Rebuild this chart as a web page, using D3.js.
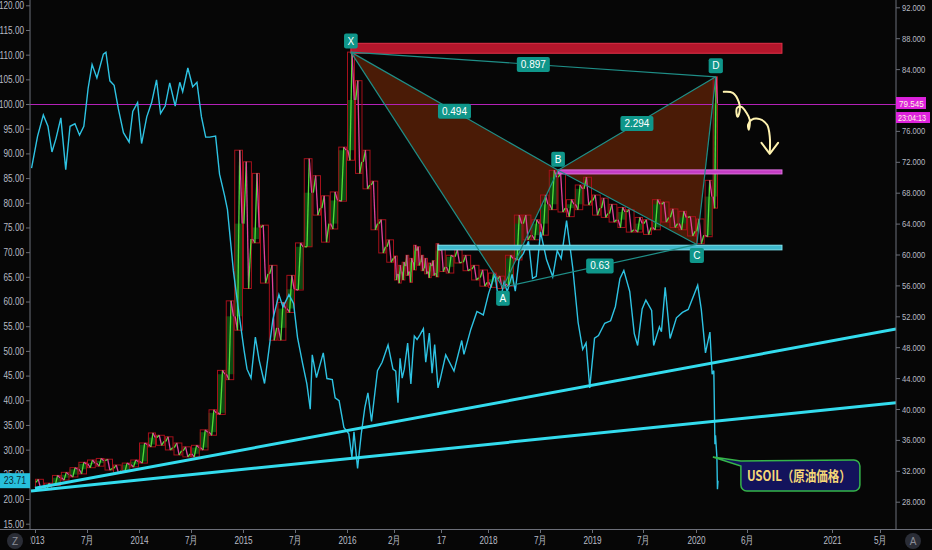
<!DOCTYPE html>
<html><head><meta charset="utf-8">
<script src="https://cdn.jsdelivr.net/npm/d3@7"></script>
<style>html,body{margin:0;padding:0;background:#060606;}svg{display:block}</style>
</head><body><svg id="c" width="932" height="550"></svg>
<script>
// ---------------- DATA ----------------
const xTickDates = ["2013-01-01","2013-07-01","2014-01-01","2014-07-01","2015-01-01","2015-07-01","2016-01-01","2016-07-01","2017-07-15","2018-01-01","2018-07-01","2019-01-01","2019-07-01","2020-01-01","2020-06-01","2021-01-01","2021-05-01"];
const xTickText  = ["2013","7月","2014","7月","2015","7月","2016","2月","17","2018","7月","2019","7月","2020","6月","2021","5月"];
const leftTicks  = d3.range(15, 121, 5);
const rightTicks = d3.range(28, 93, 4).filter(v => v !== 80);

const monthlyOHLC = [
["2013-01",30.5,30.9,29.7,29.9],["2013-02",29.9,30.4,29.55,30.2],["2013-03",30.2,31.4,30.1,31.1],["2013-04",31.1,31.8,30.8,31.5],
["2013-05",31.5,32.4,31.2,32.2],["2013-06",32.2,33.1,31.6,32.9],["2013-07",32.9,33.4,32.4,33.0],["2013-08",33.0,33.6,32.6,33.3],
["2013-09",33.3,33.5,32.1,32.3],["2013-10",32.3,32.75,31.7,32.0],["2013-11",32.0,33.0,31.9,32.8],["2013-12",32.8,33.4,32.5,33.2],
["2014-01",33.2,35.6,33.0,35.4],["2014-02",35.4,36.9,35.1,36.3],["2014-03",36.3,36.6,35.3,35.8],["2014-04",35.8,36.4,34.7,35.0],
["2014-05",35.0,35.6,34.05,34.6],["2014-06",34.6,35.1,33.8,34.2],["2014-07",34.2,35.3,33.8,35.0],["2014-08",35.0,37.3,34.7,37.0],
["2014-09",37.0,39.9,36.6,39.5],["2014-10",39.5,45.0,39.3,44.5],["2014-11",44.5,54.0,43.8,52.0],["2014-12",52.0,73.5,50.2,64.0],
["2015-01",64.0,72.0,55.6,62.0],["2015-02",62.0,70.5,61.5,63.5],["2015-03",63.5,63.8,56.3,57.5],["2015-04",57.5,58.6,48.9,50.5],
["2015-05",50.5,53.8,48.9,53.0],["2015-06",53.0,57.3,52.5,55.5],["2015-07",55.5,61.5,55.4,61.0],["2015-08",61.0,72.4,61.0,68.0],
["2015-09",68.0,70.2,65.1,66.0],["2015-10",66.0,67.6,61.6,64.0],["2015-11",64.0,68.1,63.3,67.0],["2015-12",67.0,73.9,66.9,73.5],
["2016-01",73.5,86.2,72.2,80.0],["2016-02",80.0,82.5,70.5,72.0],["2016-03",72.0,73.5,68.5,69.0],["2016-04",69.0,69.5,63.2,64.0],
["2016-05",64.0,64.5,60.2,61.0],["2016-06",61.0,61.9,59.0,59.5],["2016-07",59.5,59.8,56.7,57.5],["2016-08",57.5,58.6,56.3,57.8],
["2016-09",57.8,59.0,56.7,58.5],["2016-10",58.5,59.9,57.3,57.8],["2016-11",57.8,59.5,56.4,59.0],["2016-12",59.0,61.2,58.0,60.5],
["2017-01",60.5,61.0,58.6,59.0],["2017-02",59.0,59.9,57.9,58.2],["2017-03",58.2,59.5,57.5,57.8],["2017-04",57.8,58.9,57.0,58.5],
["2017-05",58.5,59.2,57.3,57.6],["2017-06",57.6,61.4,57.1,60.5],["2017-07",60.5,60.8,57.8,58.4],["2017-08",58.4,59.9,57.6,59.7],
["2017-09",59.7,60.6,58.9,59.0],["2017-10",59.0,59.9,57.9,58.1],["2017-11",58.1,58.6,56.7,57.0],["2017-12",57.0,58.0,55.9,56.4],
["2018-01",56.4,57.6,55.75,56.8],["2018-02",56.8,57.2,55.6,56.2],["2018-03",56.2,59.9,55.9,59.5],["2018-04",59.5,65.1,59.3,64.0],
["2018-05",64.0,65.1,61.9,62.5],["2018-06",62.5,64.5,61.9,64.0],["2018-07",64.0,67.7,62.5,66.5],["2018-08",66.5,70.9,65.8,70.0],
["2018-09",70.0,70.5,65.5,66.0],["2018-10",66.0,67.1,64.9,66.5],["2018-11",66.5,69.0,65.8,68.5],["2018-12",68.5,70.0,66.4,67.0],
["2019-01",67.0,67.7,65.1,66.0],["2019-02",66.0,67.3,64.8,65.3],["2019-03",65.3,66.5,64.2,64.5],["2019-04",64.5,66.1,63.5,65.5],
["2019-05",65.5,65.8,62.9,63.2],["2019-06",63.2,64.8,62.9,64.0],["2019-07",64.0,64.5,62.6,63.5],["2019-08",63.5,67.1,63.2,66.5],
["2019-09",66.5,66.8,64.2,64.8],["2019-10",64.8,65.9,63.5,64.0],["2019-11",64.0,65.6,63.2,64.8],["2019-12",64.8,64.9,62.4,63.0],
["2020-01",63.0,64.6,61.4,62.5],["2020-02",62.5,69.6,62.3,67.5],["2020-03",67.5,83.0,66.0,79.545]
];
const lastDate = "2020-03-20";

const usoil = [
["2012-12-20",87.0],["2013-01-10",93.5],["2013-01-30",97.8],["2013-02-15",95.5],["2013-03-01",90.3],["2013-03-15",93.0],
["2013-04-01",97.2],["2013-04-18",86.7],["2013-05-03",95.5],["2013-05-20",96.0],["2013-06-05",93.7],["2013-06-20",95.5],
["2013-07-05",103.2],["2013-07-19",108.0],["2013-08-05",105.3],["2013-08-28",110.1],["2013-09-06",110.5],["2013-09-20",104.7],
["2013-10-05",103.8],["2013-10-20",99.0],["2013-11-07",94.2],["2013-11-27",92.3],["2013-12-10",98.5],["2013-12-27",100.3],
["2014-01-10",92.0],["2014-01-28",97.4],["2014-02-14",100.3],["2014-03-03",104.9],["2014-03-17",98.1],["2014-04-02",99.6],
["2014-04-18",104.3],["2014-05-07",99.6],["2014-05-23",104.4],["2014-06-02",102.5],["2014-06-20",107.3],["2014-07-07",103.5],
["2014-07-22",104.4],["2014-08-07",97.4],["2014-08-22",93.3],["2014-09-05",93.3],["2014-09-26",93.5],["2014-10-10",85.8],
["2014-10-28",81.4],["2014-11-07",78.6],["2014-11-28",66.2],["2014-12-10",60.9],["2014-12-19",57.1],["2015-01-05",50.0],
["2015-01-15",46.3],["2015-01-29",44.5],["2015-02-13",52.8],["2015-02-26",48.2],["2015-03-17",43.4],["2015-04-01",50.1],
["2015-04-15",56.4],["2015-05-06",61.4],["2015-05-20",58.9],["2015-06-10",61.4],["2015-06-26",59.6],["2015-07-10",52.7],
["2015-07-28",47.4],["2015-08-12",43.3],["2015-08-24",38.2],["2015-08-31",49.2],["2015-09-15",44.6],["2015-10-09",49.6],
["2015-10-22",44.4],["2015-11-10",44.2],["2015-11-20",40.5],["2015-12-04",39.9],["2015-12-21",34.5],["2016-01-08",33.2],
["2016-01-20",28.5],["2016-01-28",33.6],["2016-02-11",26.2],["2016-02-25",33.1],["2016-03-10",38.5],["2016-03-22",41.5],
["2016-04-05",35.7],["2016-04-28",46.0],["2016-05-16",47.7],["2016-06-08",51.2],["2016-06-27",46.3],["2016-07-15",45.9],
["2016-08-02",39.5],["2016-08-19",48.5],["2016-09-05",44.5],["2016-09-22",46.3],["2016-10-19",51.6],["2016-11-14",43.3],
["2016-11-30",49.4],["2016-12-12",53.0],["2017-01-03",52.3],["2017-01-25",53.2],["2017-02-23",54.5],["2017-03-14",47.7],
["2017-04-12",53.6],["2017-05-04",45.5],["2017-05-25",51.3],["2017-06-21",42.5],["2017-07-10",44.4],["2017-08-01",49.2],
["2017-08-31",45.9],["2017-09-28",52.1],["2017-10-06",49.3],["2017-10-31",54.4],["2017-11-22",58.0],["2017-12-15",57.3],
["2018-01-03",61.6],["2018-01-25",65.6],["2018-02-09",59.2],["2018-02-26",63.9],["2018-03-09",62.0],["2018-03-26",65.5],
["2018-04-06",62.1],["2018-04-19",68.5],["2018-05-04",69.7],["2018-05-22",72.2],["2018-06-05",64.7],["2018-06-18",65.1],
["2018-07-03",74.1],["2018-07-24",68.5],["2018-08-15",65.0],["2018-08-31",70.3],["2018-09-14",68.7],["2018-10-03",76.4],
["2018-10-25",66.8],["2018-11-13",55.7],["2018-11-29",50.3],["2018-12-11",51.6],["2018-12-24",42.5],["2019-01-10",52.6],
["2019-01-24",53.1],["2019-02-15",55.6],["2019-03-08",56.1],["2019-03-25",59.0],["2019-04-10",64.6],["2019-04-24",66.3],
["2019-05-15",62.0],["2019-05-31",53.5],["2019-06-12",51.1],["2019-06-28",58.5],["2019-07-11",60.3],["2019-07-31",58.2],
["2019-08-07",51.1],["2019-08-27",54.9],["2019-09-03",53.9],["2019-09-16",62.9],["2019-10-03",52.5],["2019-10-25",56.7],
["2019-11-15",57.8],["2019-12-05",58.4],["2019-12-27",61.7],["2020-01-07",63.3],["2020-01-20",58.4],["2020-02-04",49.6],
["2020-02-20",53.8],["2020-02-28",45.3],["2020-03-05",46.0],["2020-03-09",31.1],["2020-03-11",32.9],["2020-03-16",28.5],
["2020-03-18",22.0],["2020-03-20",23.71]
];

const patternNames = ["X","A","B","C","D"];
const patternPts = [["2016-01-16",86.2],["2018-02-22",55.75],["2018-09-03",70.9],["2020-01-04",61.3],["2020-03-12",83.0]];
const ratioLinks = [["X","D","0.897"],["X","B","0.494"],["B","D","2.294"],["A","C","0.63"]];

const zones = [
  ["2016-01-16","2020-08-28",87.34,86.05,"red"],
  ["2018-09-03","2020-08-28",70.95,70.43,"magenta"],
  ["2017-06-21","2020-08-28",61.2,60.6,"cyan"]
];
const trendLines = [
  [["2013-01-01",29.73],["2021-06-10",50.36]],
  [["2012-12-18",29.38],["2021-06-10",40.81]]
];
const lastPrice = 79.545, lastPriceTime = "23:04:13";

// ---------------- SCALES ----------------
const parse = d3.timeParse("%Y-%m-%d");
const L = 30, R = 896, B = 529;
const xAnchors = xTickDates.slice(0, 14).concat(["2020-03-20"], xTickDates.slice(14));
const xAnchorPx = [35,87,139,191,243,295,347,394,441,488,540,592,643,696,718,747,832,880];
const x = d3.scaleTime().domain(xAnchors.map(parse)).range(xAnchorPx);
const yL = d3.scaleLinear().domain([15,120]).range([523.7,5.3]);
const yR = d3.scaleLinear().domain([28,92]).range([501.7,7.3]);

const svg = d3.select("#c");
svg.append("rect").attr("width",932).attr("height",550).attr("fill","#060606");
const defs = svg.append("defs");
defs.append("clipPath").attr("id","plot").append("rect").attr("x",L).attr("y",0).attr("width",R-L).attr("height",B);
defs.append("clipPath").attr("id","xlab").append("rect").attr("x",L+0.5).attr("y",B).attr("width",R-L-1).attr("height",550-B);
const plot = svg.append("g").attr("clip-path","url(#plot)");

const P = Object.fromEntries(patternNames.map((n,i)=>[n,[x(parse(patternPts[i][0])), yR(patternPts[i][1])]]));
const teal = "#1f8f88";

[["X","A","B"],["B","C","D"]].forEach(t=>{
  plot.append("path").attr("d","M"+t.map(n=>P[n].join(",")).join("L")+"Z")
    .attr("fill","#4a1b06").attr("stroke","none");
});

const pyCrisp = Math.round(yR(lastPrice)) + 0.5;
plot.append("line").attr("x1",L).attr("x2",R).attr("y1",pyCrisp).attr("y2",pyCrisp)
  .attr("stroke","#b321b8").attr("stroke-width",1);

const gC = plot.append("g");
monthlyOHLC.forEach((m,i)=>{
  const d0 = parse(m[0]+"-01");
  const d1 = i < monthlyOHLC.length-1 ? parse(monthlyOHLC[i+1][0]+"-01") : parse(lastDate);
  const x0 = x(d0), x1 = x(d1), w = x1-x0;
  const [o,h,l,c] = m.slice(1);
  if (c > o) gC.append("rect").attr("x",x0).attr("width",w).attr("y",yR(c)).attr("height",Math.max(1,yR(o)-yR(c))).attr("fill","#0b4a10");
  gC.append("rect").attr("x",x0+0.5).attr("width",Math.max(1,w-1)).attr("y",yR(h)).attr("height",yR(l)-yR(h))
    .attr("fill","none").attr("stroke","#a5101b").attr("stroke-width",1);
  const seq = c >= o ? [o,l,h,c] : [o,h,l,c];
  const fr = [0.1,0.37,0.63,0.9];
  for (let k=0;k<3;k++){
    gC.append("line").attr("x1",x0+fr[k]*w).attr("x2",x0+fr[k+1]*w)
      .attr("y1",yR(seq[k])).attr("y2",yR(seq[k+1]))
      .attr("stroke", seq[k+1] >= seq[k] ? "#55dd3a" : "#e2449c").attr("stroke-width",1.3);
  }
});

plot.append("path").datum(usoil)
  .attr("d", d3.line().x(d=>x(parse(d[0]))).y(d=>yL(d[1])))
  .attr("fill","none").attr("stroke","#2ec3e3").attr("stroke-width",1.4);

const zoneStyle = {red:["#b4162b","#e03048"], magenta:["#c43cc4","#e070e0"], cyan:["#3fb8cc","#7fe6f2"]};
zones.forEach(z=>{
  const [s,e,t,b,k] = z;
  plot.append("rect").attr("x",x(parse(s))).attr("width",x(parse(e))-x(parse(s)))
    .attr("y",yR(t)).attr("height",yR(b)-yR(t))
    .attr("fill",zoneStyle[k][0]).attr("stroke",zoneStyle[k][1]).attr("stroke-width",1);
});

trendLines.forEach(tl=>{
  plot.append("line").attr("x1",x(parse(tl[0][0]))).attr("y1",yR(tl[0][1]))
    .attr("x2",x(parse(tl[1][0]))).attr("y2",yR(tl[1][1]))
    .attr("stroke","#33dcee").attr("stroke-width",3);
});

[["X","A"],["A","B"],["B","C"],["C","D"],["X","B"],["B","D"],["X","D"],["A","C"]].forEach(e=>{
  plot.append("line").attr("x1",P[e[0]][0]).attr("y1",P[e[0]][1]).attr("x2",P[e[1]][0]).attr("y2",P[e[1]][1])
    .attr("stroke",teal).attr("stroke-width",1.2);
});

function tag(g, cx, cy, txt, padX){
  const t = g.append("text").attr("x",cx).attr("y",cy+3.6).attr("text-anchor","middle")
    .attr("font-family","Liberation Sans, Arial, sans-serif").attr("font-size",10).attr("fill","#ffffff").text(txt);
  const w = t.node().getComputedTextLength() + padX*2;
  g.insert("rect","text").attr("x",cx-w/2).attr("y",cy-7.5).attr("width",w).attr("height",15).attr("rx",2).attr("fill","#0f968a");
}
ratioLinks.forEach(r=>{
  tag(plot.append("g"),(P[r[0]][0]+P[r[1]][0])/2,(P[r[0]][1]+P[r[1]][1])/2,r[2],4);
});
const above = {X:true,A:false,B:true,C:false,D:true};
patternNames.forEach(n=>{
  tag(plot.append("g"),P[n][0], P[n][1] + (above[n] ? -11 : 11), n, 3.5);
});

const xD = P.D[0], yD = P.D[1];
const arrowPath = [[8,15],[17,16],[23,25],[24,33],[22,40],[20.7,36],[21.3,31],[25.7,30],[30.7,36],[34,43],[33,53],[32.3,48],[35.7,43],[44,42.3],[51.3,48],[54,60],[54,76]];
plot.append("path").datum(arrowPath)
  .attr("d", d3.line().x(d=>xD+d[0]).y(d=>yD+d[1]).curve(d3.curveCatmullRom))
  .attr("fill","none").attr("stroke","#fff3b0").attr("stroke-width",2).attr("stroke-linecap","round");
plot.append("path").datum([[45.7,66],[54,77],[62.3,66]])
  .attr("d", d3.line().x(d=>xD+d[0]).y(d=>yD+d[1]))
  .attr("fill","none").attr("stroke","#fff3b0").attr("stroke-width",2).attr("stroke-linecap","round").attr("stroke-linejoin","round");

const tip = [x(parse("2020-03-16"))-4, yL(28.5)];
const bx = tip[0]+28, by = tip[1]+3, bw = 119, bh = 31, r = 6;
const cp = d3.path();
cp.moveTo(tip[0],tip[1]);
cp.lineTo(bx, by+1);
cp.lineTo(bx+bw-r, by); cp.arcTo(bx+bw,by,bx+bw,by+r,r);
cp.lineTo(bx+bw,by+bh-r); cp.arcTo(bx+bw,by+bh,bx+bw-r,by+bh,r);
cp.lineTo(bx+r,by+bh); cp.arcTo(bx,by+bh,bx,by+bh-r,r);
cp.lineTo(bx,by+6);
cp.closePath();
plot.append("path").attr("d",cp.toString()).attr("fill","#13135c").attr("stroke","#35b54a").attr("stroke-width",1.5);
plot.append("text").attr("x",bx+6).attr("y",by+21).attr("textLength",104).attr("lengthAdjust","spacingAndGlyphs")
  .attr("font-family","Noto Sans CJK JP, sans-serif").attr("font-weight","bold").attr("font-size",14)
  .attr("fill","#f6d877").text("USOIL（原油価格）");

// ---------------- AXES ----------------
const axisColor = "#6b6e78", textColor = "#b8bbc4";
const font = "Liberation Sans, Arial, sans-serif";
function condense(sel, f){
  sel.each(function(){
    const len = this.getComputedTextLength();
    if (len > 0) d3.select(this).attr("textLength", len*f).attr("lengthAdjust","spacingAndGlyphs");
  });
}
function styleAxis(g, fs){
  g.select(".domain").attr("stroke",axisColor);
  g.selectAll(".tick line").attr("stroke",axisColor);
  g.selectAll("text").attr("fill",textColor).attr("font-family",font).attr("font-size",fs);
}
svg.append("g").attr("transform",`translate(${L},0)`)
  .call(d3.axisLeft(yL).tickValues(leftTicks).tickFormat(d3.format(".2f")).tickSize(4).tickPadding(2).tickSizeOuter(0))
  .call(g=>styleAxis(g,10.5)).call(g=>g.select(".domain").attr("d",`M0,0V${B}`))
  .call(g=>condense(g.selectAll("text"),0.78));
svg.append("g").attr("transform",`translate(${R},0)`)
  .call(d3.axisRight(yR).tickValues(rightTicks).tickFormat(d3.format(".3f")).tickSize(4).tickPadding(2).tickSizeOuter(0))
  .call(g=>styleAxis(g,9.5)).call(g=>g.select(".domain").attr("d",`M0,0V${B}`))
  .call(g=>condense(g.selectAll("text"),0.8));
svg.append("g").attr("clip-path","url(#xlab)").append("g").attr("transform",`translate(0,${B})`)
  .call(d3.axisBottom(x).tickValues(xTickDates.map(parse)).tickFormat((d,i)=>xTickText[i]).tickSize(4).tickPadding(4).tickSizeOuter(0))
  .call(g=>styleAxis(g,10.5)).call(g=>g.select(".domain").attr("d",`M${L},0H${R}`))
  .call(g=>condense(g.selectAll("text"),0.78));
svg.append("line").attr("x1",0).attr("x2",932).attr("y1",B+0.5).attr("y2",B+0.5).attr("stroke",axisColor);

// price tags
const ty = yR(lastPrice);
svg.append("rect").attr("x",R).attr("y",ty-6.5).attr("width",30).attr("height",12).attr("fill","#dd22dd");
svg.append("text").attr("x",R+3).attr("y",ty+3.5).attr("font-family",font).attr("font-size",9.5).attr("fill","#fff6e0")
  .text(d3.format(".3f")(lastPrice)).call(s=>condense(s,0.85));
svg.append("rect").attr("x",R).attr("y",ty+8.5).attr("width",34).attr("height",11).attr("fill","#dd22dd");
svg.append("text").attr("x",R+2).attr("y",ty+17.5).attr("font-family",font).attr("font-size",9).attr("fill","#fff6e0")
  .text(lastPriceTime).call(s=>condense(s,0.8));
const lastOil = usoil[usoil.length-1][1], oy = yL(lastOil);
svg.append("rect").attr("x",0).attr("y",oy-7.5).attr("width",L).attr("height",15).attr("fill","#27c0dc");
svg.append("text").attr("x",L/2).attr("y",oy+3.8).attr("text-anchor","middle").attr("font-family",font).attr("font-size",10.5)
  .attr("fill","#0b2a35").text(lastOil.toFixed(2)).call(s=>condense(s,0.85));

[[15,"Z"],[913,"A"]].forEach(b=>{
  svg.append("circle").attr("cx",b[0]).attr("cy",541).attr("r",8).attr("fill","#2a2d36");
  svg.append("text").attr("x",b[0]).attr("y",544.5).attr("text-anchor","middle").attr("font-family",font).attr("font-size",10).attr("fill","#8a8d96").text(b[1]);
});
</script></body></html>
